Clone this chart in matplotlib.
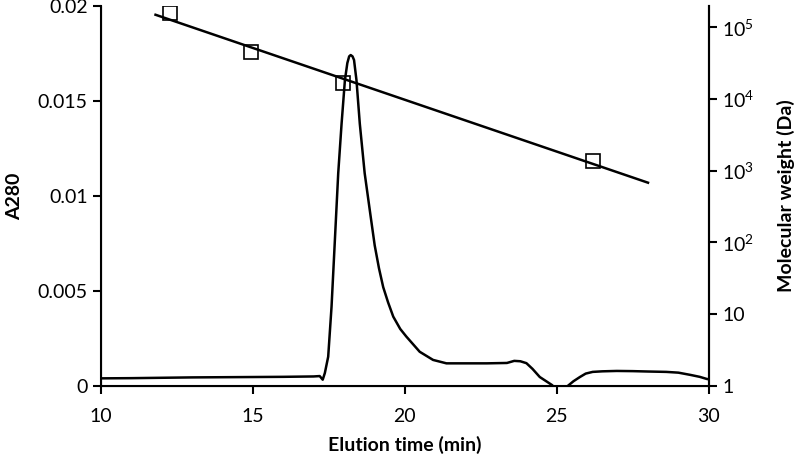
import numpy as np
import matplotlib.pyplot as plt

plt.rcParams['font.family'] = ['Lato', 'DejaVu Sans']
plt.rcParams['mathtext.fontset'] = 'custom'
plt.rcParams['mathtext.rm'] = 'Lato'

# Chromatogram (A280 vs elution time)
elution_time = [10.0, 11.0, 12.0, 13.0, 14.0, 15.0, 16.0, 17.0, 17.2, 17.3, 17.37,
                17.48, 17.59, 17.70, 17.81, 17.92, 18.03, 18.11, 18.17, 18.22, 18.28,
                18.33, 18.41, 18.52, 18.68, 18.87, 19.01, 19.15, 19.29, 19.45, 19.62,
                19.85, 20.05, 20.49, 20.93, 21.37, 22.0, 22.7, 23.36, 23.6, 23.8, 24.0,
                24.2, 24.44, 24.65, 24.84, 25.0, 25.2, 25.36, 25.55, 25.76, 25.95, 26.18,
                26.5, 26.97, 27.5, 28.0, 28.6, 29.0, 29.4, 29.7, 29.93, 30.0]
a280 = [0.00040, 0.00041, 0.00043, 0.00045, 0.00046, 0.00047, 0.00048, 0.00050, 0.00052,
        0.00033, 0.00068, 0.00154, 0.00417, 0.00768, 0.0112, 0.0138, 0.0161, 0.0170,
        0.01735, 0.01742, 0.01735, 0.01716, 0.0161, 0.0138, 0.0112, 0.0090, 0.0074,
        0.0062, 0.0052, 0.0044, 0.00365, 0.0030, 0.0026, 0.0018, 0.00137, 0.00119,
        0.00119, 0.00119, 0.00121, 0.00132, 0.00130, 0.00120, 0.00090, 0.00047, 0.00025,
        0.00005, -0.0002, -0.0003, 0.00000, 0.00025, 0.00047, 0.00065, 0.00074, 0.00077,
        0.00079, 0.00078, 0.00076, 0.00074, 0.00070, 0.00058, 0.00048, 0.00037, 0.00035]

# Calibration standards (log10 molecular weight)
std_time = [12.27, 14.93, 17.96, 26.18]
std_logmw = [5.19, 4.65, 4.22, 3.13]
fit_range = [11.8, 28.0]

fig = plt.figure(figsize=(8, 4.65), dpi=100)
ax = fig.add_axes([0.126, 0.170, 0.760, 0.817])
ax.plot(elution_time, a280, color='black', lw=1.8)
ax.set_xlim(10, 30)
ax.set_ylim(0, 0.02)
ax.set_xticks([10, 15, 20, 25, 30])
ax.set_yticks([0, 0.005, 0.01, 0.015, 0.02])
ax.set_yticklabels(['0', '0.005', '0.01', '0.015', '0.02'])
ax.set_xlabel('Elution time (min)', fontsize=14, fontweight='bold', labelpad=8)
ax.set_ylabel('A280', fontsize=14, fontweight='bold', labelpad=10)
ax.spines['top'].set_visible(False)
for s in ['left', 'bottom', 'right']:
    ax.spines[s].set_linewidth(1.5)
ax.tick_params(labelsize=14, width=1.5, length=6)
ax.tick_params(axis='x', pad=10)

ax2 = ax.twinx()
ax2.set_yscale('log')
ax2.set_ylim(1, 10 ** 5.29)
ax2.set_yticks([1, 10, 100, 1e3, 1e4, 1e5])
ax2.set_yticklabels(['1', '10', '$10^2$', '$10^3$', '$10^4$', '$10^5$'])
ax2.minorticks_off()
ax2.spines['top'].set_visible(False)
ax2.spines['right'].set_linewidth(1.5)
ax2.tick_params(labelsize=14, width=1.5, length=6)
ax2.set_ylabel('Molecular weight (Da)', fontsize=14, fontweight='bold', labelpad=16)

coef = np.polyfit(std_time, std_logmw, 1)
xf = np.array(fit_range)
ax2.plot(xf, 10 ** np.polyval(coef, xf), color='black', lw=1.8)
ax2.plot(std_time, 10 ** np.array(std_logmw), 's', ms=9.5, mfc='none',
         mec='black', mew=1.2)

fig.savefig('out.png', dpi=100)
